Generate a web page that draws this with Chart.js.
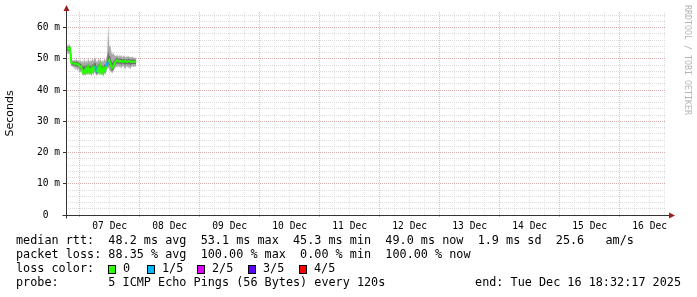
<!DOCTYPE html>
<html>
<head>
<meta charset="utf-8">
<title>SmokePing</title>
<script src="https://cdn.jsdelivr.net/npm/chart.js@4.4.1/dist/chart.umd.min.js"></script>
<style>
    html, body { margin: 0; padding: 0; background: #ffffff; }
    #chart { display: block; }
</style>
</head>
<body>
<canvas id="chart" width="697" height="297"></canvas>
<script>
// time axis: hours counted from 06 Dec 00:00
const xStart = 18.538;          // 06 Dec 18:32:17
const xEnd = 258.538;           // 16 Dec 18:32:17
const sampleStart = 19.0;       // first sample shown
const sampleStep = 0.4;         // 24 min per pixel

const dayLabels = ['07 Dec', '08 Dec', '09 Dec', '10 Dec', '11 Dec', '12 Dec', '13 Dec', '14 Dec', '15 Dec', '16 Dec'];

// median rtt (ms)
const medianRtt = [
    53.2, 53.4, 53.0, 53.3, 48.8, 48.6, 48.5, 48.6, 48.4, 48.5,
    48.2, 48.3, 48.0, 47.3, 47.6, 46.4, 45.6, 46.2, 45.5, 46.8,
    45.9, 47.2, 45.8, 46.5, 45.6, 47.0, 46.0, 47.4, 47.6, 46.3,
    45.7, 47.1, 46.0, 47.5, 45.8, 46.7, 45.5, 46.9, 46.2, 47.6,
    48.4, 49.2, 49.6, 48.7, 47.6, 47.1, 47.5, 48.2, 48.9, 49.3,
    49.6, 49.3, 49.1, 49.4, 49.2, 49.0, 49.3, 49.1, 49.4, 49.2,
    49.0, 49.2, 49.3, 49.1, 49.0, 49.2, 49.1, 49.0, 49.1, 49.0
];

// lost pings out of 5 for each sample
const lossCount = [
    0, 0, 0, 0, 0, 0, 0, 0, 0, 0,
    0, 0, 0, 0, 0, 0, 0, 0, 0, 0,
    0, 0, 0, 0, 0, 0, 0, 0, 1, 1,
    0, 0, 0, 0, 0, 0, 0, 0, 0, 1,
    1, 0, 0, 0, 0, 0, 0, 0, 0, 0,
    0, 0, 0, 0, 0, 0, 0, 0, 0, 0,
    0, 0, 0, 0, 0, 0, 0, 0, 0, 0
];

// smoke: spread of the single pings (ms)
const smokeMin = [
    51.8, 51.5, 51.9, 51.6, 47.8, 47.6, 47.2, 47.5, 46.4, 47.3,
    46.0, 47.1, 45.9, 45.6, 46.2, 45.0, 44.6, 45.1, 44.7, 45.3,
    44.8, 45.6, 44.9, 45.2, 44.7, 45.5, 44.9, 45.8, 45.4, 44.8,
    44.6, 45.5, 44.9, 45.7, 44.8, 45.3, 44.6, 45.4, 44.9, 45.8,
    46.6, 47.3, 46.5, 46.1, 45.8, 45.4, 45.9, 46.6, 47.0, 47.6,
    47.2, 47.8, 47.3, 47.6, 46.8, 47.5, 47.7, 47.2, 46.6, 47.4,
    47.6, 47.0, 47.5, 46.5, 47.4, 47.7, 47.3, 47.6, 47.5, 47.6
];
const smokeMax = [
    54.6, 54.2, 54.8, 54.0, 52.8, 49.6, 49.3, 49.8, 49.2, 50.1,
    49.4, 49.7, 49.0, 49.8, 48.9, 49.5, 48.6, 50.2, 48.9, 49.6,
    48.7, 50.4, 49.0, 49.8, 48.8, 50.3, 49.2, 50.0, 50.6, 49.3,
    48.9, 50.1, 49.1, 50.5, 49.0, 49.7, 48.8, 50.2, 49.3, 50.0,
    51.2, 61.2, 53.8, 54.4, 52.6, 51.3, 52.0, 51.4, 51.0, 50.8,
    51.5, 50.6, 51.2, 50.7, 51.3, 50.5, 50.9, 51.1, 50.4, 50.8,
    50.6, 51.0, 50.5, 50.7, 50.4, 50.8, 50.3, 50.6, 50.2, 50.4
];
const smokeInnerLo = [
    52.6, 52.5, 52.4, 52.5, 48.2, 48.0, 47.8, 48.0, 47.6, 47.9,
    47.3, 47.7, 47.1, 46.5, 46.9, 45.7, 45.2, 45.6, 45.1, 46.0,
    45.3, 46.4, 45.3, 45.8, 45.1, 46.3, 45.4, 46.6, 46.5, 45.5,
    45.1, 46.3, 45.4, 46.6, 45.2, 46.0, 45.0, 46.1, 45.5, 46.7,
    47.5, 48.3, 48.0, 47.4, 46.7, 46.2, 46.6, 47.3, 48.0, 48.5,
    48.5, 48.6, 48.3, 48.6, 48.2, 48.3, 48.6, 48.3, 48.0, 48.4,
    48.3, 48.2, 48.5, 47.8, 48.3, 48.5, 48.3, 48.4, 48.3, 48.4
];
const smokeInnerHi = [
    53.8, 53.9, 53.7, 53.8, 50.5, 49.1, 49.0, 49.2, 48.9, 49.2,
    48.8, 49.0, 48.6, 48.5, 48.3, 48.0, 47.3, 48.1, 47.2, 48.2,
    47.4, 48.6, 47.5, 48.0, 47.2, 48.5, 47.7, 48.6, 49.0, 47.8,
    47.3, 48.5, 47.6, 48.8, 47.4, 48.1, 47.1, 48.4, 47.7, 48.6,
    49.6, 52.5, 51.0, 50.8, 49.5, 48.6, 49.0, 49.5, 49.9, 50.1,
    50.4, 50.0, 49.9, 50.1, 50.0, 49.7, 50.0, 49.9, 49.9, 49.9,
    49.7, 50.0, 49.9, 49.8, 49.7, 49.9, 49.8, 49.7, 49.7, 49.6
];

const lossColors = ['#26ff00', '#00b8ff', '#e100ff', '#5e00ff', '#ff0000'];
const lossNames = ['0', '1/5', '2/5', '3/5', '4/5'];

const legendRows = [
    'median rtt:  48.2 ms avg  53.1 ms max  45.3 ms min  49.0 ms now  1.9 ms sd  25.6   am/s',
    'packet loss: 88.35 % avg  100.00 % max  0.00 % min  100.00 % now',
    'loss color:',
    'probe:       5 ICMP Echo Pings (56 Bytes) every 120s'
];
const endText = 'end: Tue Dec 16 18:32:17 2025';
const watermark = 'RRDTOOL / TOBI OETIKER';

const GRID = '#dcdcdc';
const MGRID = '#d6adad';
const VGRID = '#e4e4e4';
const VMGRID = '#e0bcbc';
const MONO = '"DejaVu Sans Mono", monospace';

function toPoints(values) {
    return values.map((v, i) => ({ x: sampleStart + i * sampleStep, y: v }));
}

// axes, arrows, legend and watermark
const rrdDecor = {
    id: 'rrdDecor',
    afterDraw(chart) {
        const ctx = chart.ctx;
        const x = chart.scales.x;
        const y = chart.scales.y;
        const x0 = Math.round(x.left) + 0.5;
        const y0 = Math.round(y.getPixelForValue(0)) + 0.5;
        const yTop = Math.round(y.top);

        ctx.save();
        ctx.strokeStyle = '#333333';
        ctx.lineWidth = 1;
        ctx.beginPath();
        ctx.moveTo(x0, y0 + 3);
        ctx.lineTo(x0, yTop - 2);
        ctx.moveTo(x0 - 4, y0);
        ctx.lineTo(Math.round(x.right) + 3, y0);
        ctx.stroke();

        // arrows
        ctx.fillStyle = '#9a1f1f';
        ctx.beginPath();
        ctx.moveTo(x0, yTop - 7);
        ctx.lineTo(x0 - 3, yTop - 1);
        ctx.lineTo(x0 + 3, yTop - 1);
        ctx.closePath();
        ctx.fill();
        const xr = Math.round(x.right) + 2;
        ctx.beginPath();
        ctx.moveTo(xr + 7, y0);
        ctx.lineTo(xr + 1, y0 - 3);
        ctx.lineTo(xr + 1, y0 + 3);
        ctx.closePath();
        ctx.fill();

        // legend
        ctx.fillStyle = '#000000';
        ctx.font = '11.8px ' + MONO;
        ctx.textBaseline = 'middle';
        ctx.textAlign = 'left';
        const rowY = [241, 255, 269, 283];
        legendRows.forEach((t, i) => ctx.fillText(t, 16, rowY[i]));
        ctx.textAlign = 'right';
        ctx.fillText(endText, 681, rowY[3]);
        ctx.textAlign = 'left';

        const boxX = [108, 147, 197, 248, 299];
        lossColors.forEach((c, i) => {
            ctx.fillStyle = c;
            ctx.fillRect(boxX[i], rowY[2] - 4, 8, 9);
            ctx.strokeStyle = '#000000';
            ctx.strokeRect(boxX[i] + 0.5, rowY[2] - 3.5, 7, 8);
            ctx.fillStyle = '#000000';
            ctx.fillText(lossNames[i], boxX[i] + 15, rowY[2]);
        });

        // watermark
        ctx.translate(687, 5);
        ctx.rotate(Math.PI / 2);
        ctx.font = '8.3px ' + MONO;
        ctx.fillStyle = '#b4b4b4';
        ctx.textBaseline = 'middle';
        ctx.fillText(watermark, 0, 0);
        ctx.restore();
    }
};

new Chart(document.getElementById('chart').getContext('2d'), {
    type: 'line',
    data: {
        datasets: [
            {
                label: 'median rtt',
                data: toPoints(medianRtt),
                borderWidth: 2,
                borderColor: lossColors[0],
                segment: {
                    borderColor: c => lossColors[lossCount[c.p0DataIndex]]
                },
                pointRadius: 0,
                tension: 0,
                fill: false
            },
            {
                label: 'smoke inner hi',
                data: toPoints(smokeInnerHi),
                borderWidth: 0,
                pointRadius: 0,
                backgroundColor: '#6a6a6a',
                fill: 2
            },
            {
                label: 'smoke inner lo',
                data: toPoints(smokeInnerLo),
                borderWidth: 0,
                pointRadius: 0,
                fill: false
            },
            {
                label: 'smoke max',
                data: toPoints(smokeMax),
                borderWidth: 0,
                pointRadius: 0,
                backgroundColor: '#a9a9a9',
                fill: 4
            },
            {
                label: 'smoke min',
                data: toPoints(smokeMin),
                borderWidth: 0,
                pointRadius: 0,
                fill: false
            }
        ]
    },
    options: {
        responsive: false,
        animation: false,
        devicePixelRatio: 1,
        layout: { padding: { top: 12, right: 31, left: 0, bottom: 0 } },
        plugins: {
            legend: { display: false },
            tooltip: { enabled: false }
        },
        scales: {
            x: {
                type: 'linear',
                min: xStart,
                max: xEnd,
                afterBuildTicks: scale => {
                    const ticks = [];
                    for (let h = 24; h < xEnd; h += 6) ticks.push({ value: h });
                    scale.ticks = ticks;
                },
                afterFit: scale => { scale.height = 82; },
                grid: {
                    color: c => (c.tick && c.tick.value % 24 === 0) ? VMGRID : VGRID,
                    lineWidth: 1,
                    drawTicks: true,
                    tickLength: 2,
                    tickColor: c => (c.tick && c.tick.value % 24 === 0) ? MGRID : 'rgba(0,0,0,0)'
                },
                border: { display: false, dash: [1, 1] },
                ticks: {
                    autoSkip: false,
                    maxRotation: 0,
                    minRotation: 0,
                    padding: 4,
                    color: '#000000',
                    font: { family: MONO, size: 9.6 },
                    callback: v => (v % 24 === 12) ? dayLabels[(v - 36) / 24] : ''
                }
            },
            y: {
                min: 0,
                max: 65,
                afterBuildTicks: scale => {
                    const ticks = [];
                    for (let v = 0; v <= 64; v += 2) ticks.push({ value: v });
                    scale.ticks = ticks;
                },
                afterFit: scale => { scale.width = 66; },
                grid: {
                    color: c => (c.tick && c.tick.value % 10 === 0) ? MGRID : GRID,
                    lineWidth: 1,
                    drawTicks: true,
                    tickLength: 3,
                    tickColor: c => (c.tick && c.tick.value % 10 === 0) ? '#333333' : 'rgba(0,0,0,0)'
                },
                border: { display: false, dash: [1, 1] },
                title: {
                    display: true,
                    text: 'Seconds',
                    color: '#000000',
                    font: { family: '"DejaVu Sans", sans-serif', size: 11 },
                    padding: { top: 4, bottom: 0 }
                },
                ticks: {
                    autoSkip: false,
                    padding: 3,
                    color: '#000000',
                    font: { family: MONO, size: 9.6 },
                    callback: v => (v % 10 !== 0) ? '' : (v === 0 ? '0  ' : v + ' m')
                }
            }
        }
    },
    plugins: [rrdDecor]
});
</script>
</body>
</html>
